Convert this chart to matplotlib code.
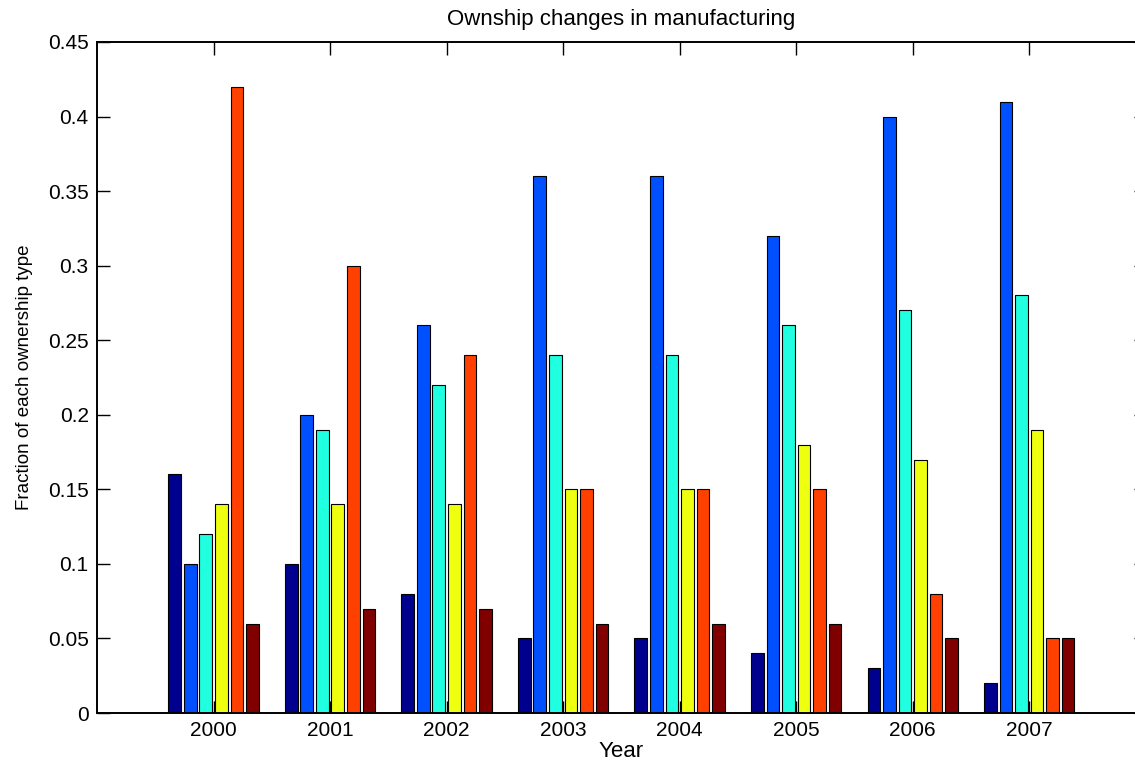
import numpy as np
import matplotlib
matplotlib.use('Agg')
import matplotlib.pyplot as plt

plt.rcParams['font.family'] = ['Liberation Sans', 'DejaVu Sans']

years = ['2000', '2001', '2002', '2003', '2004', '2005', '2006', '2007']

# one list per ownership type (MATLAB jet colours, in drawing order)
type1 = [0.16, 0.10, 0.08, 0.05, 0.05, 0.04, 0.03, 0.02]
type2 = [0.10, 0.20, 0.26, 0.36, 0.36, 0.32, 0.40, 0.41]
type3 = [0.12, 0.19, 0.22, 0.24, 0.24, 0.26, 0.27, 0.28]
type4 = [0.14, 0.14, 0.14, 0.15, 0.15, 0.18, 0.17, 0.19]
type5 = [0.42, 0.30, 0.24, 0.15, 0.15, 0.15, 0.08, 0.05]
type6 = [0.06, 0.07, 0.07, 0.06, 0.06, 0.06, 0.05, 0.05]

series = [type1, type2, type3, type4, type5, type6]
colors = ['#00008F', '#0050FF', '#20FFDF', '#EFFF10', '#FF4000', '#800000']

fig = plt.figure(figsize=(11.35, 7.63), dpi=100)
ax = fig.add_axes([0.0855, 0.0655, 0.924, 0.8795])

x = np.arange(1, len(years) + 1)
n = len(series)
pitch = 0.8 / n
width = pitch * 0.82
for i, (vals, c) in enumerate(zip(series, colors)):
    off = (i - (n - 1) / 2) * pitch
    ax.bar(x + off, vals, width, color=c, edgecolor='black', linewidth=0.8, zorder=2)

ax.set_xlim(0, 9)
ax.set_ylim(0, 0.45)
ax.set_xticks(x)
ax.set_xticklabels(years)
ax.set_yticks(np.arange(0, 0.451, 0.05))
ax.set_yticklabels(['0', '0.05', '0.1', '0.15', '0.2', '0.25', '0.3', '0.35', '0.4', '0.45'])

ax.tick_params(direction='in', length=9, width=1, labelsize=15, top=True, right=True,
               pad=6)
for s in ax.spines.values():
    s.set_linewidth(1.4)

ax.set_title('Ownship changes in manufacturing', fontsize=16, pad=12)
ax.set_xlabel('Year', fontsize=16, labelpad=0.5)
ax.set_ylabel('Fraction of each ownership type', fontsize=13.5, labelpad=11)

fig.savefig('out.png', dpi=100)
